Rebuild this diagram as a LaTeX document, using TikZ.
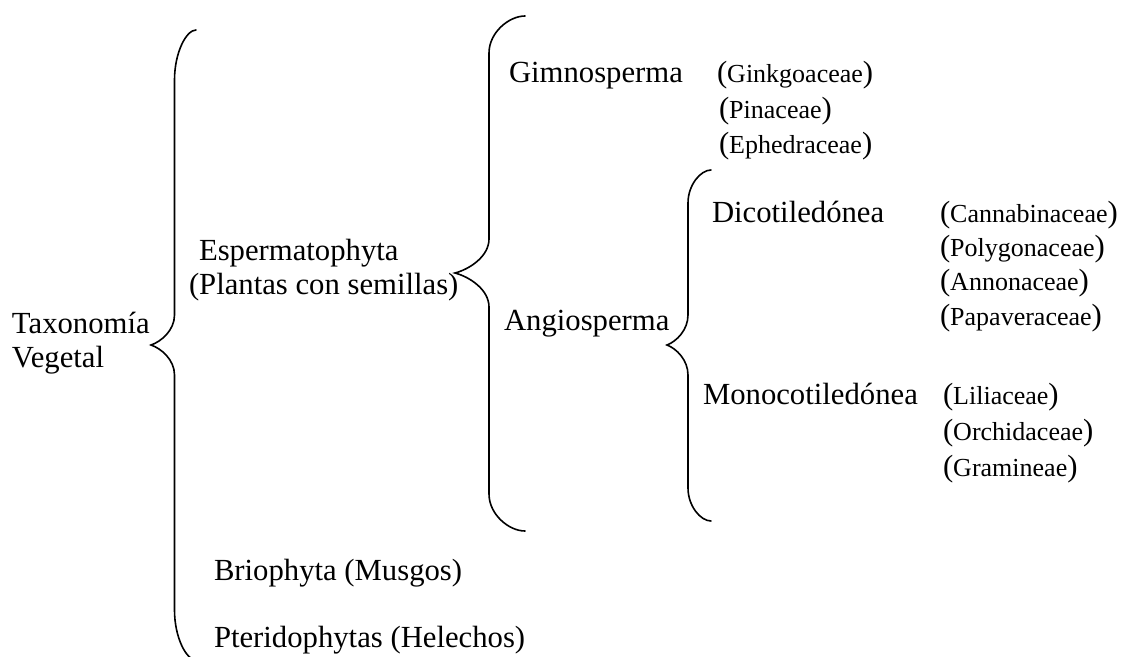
\documentclass[tikz,border=0pt]{standalone}
\usepackage{fontspec}
\setmainfont{Liberation Serif}
\newcommand\mainsize{\fontsize{30.7}{36}\selectfont}
\newcommand\famsize{\fontsize{26}{30}\selectfont}
\newcommand\famname[1]{(\famsize #1\mainsize)}
% #1 end x, #2 vertical x, #3 tip x, #4 top y, #5 tip y, #6 bottom y, #7 hook height, #8 tip height
\newcommand\drawmybrace[8]{%
  \draw[bracestyle] (#1,#4) .. controls ({#2+0.55*(#1-#2)},#4) and (#2,{#4+0.45*#7}) .. (#2,{#4+#7})
    -- (#2,{#5-#8}) .. controls (#2,{#5-0.5*#8}) and ({#3+0.45*(#2-#3)},{#5-0.12*#8}) .. (#3,#5)
    .. controls ({#3+0.45*(#2-#3)},{#5+0.12*#8}) and (#2,{#5+0.5*#8}) .. (#2,{#5+#8})
    -- (#2,{#6-#7}) .. controls (#2,{#6-0.45*#7}) and ({#2+0.55*(#1-#2)},#6) .. (#1,#6);}
\begin{document}
\begin{tikzpicture}[x=1pt,y=-1pt,
  bracestyle/.style={line width=1.6pt, line cap=round},
  lbl/.style={anchor=base west, inner sep=0pt, outer sep=0pt, font=\mainsize}]
\useasboundingbox (0,0) rectangle (1123,656);
% level 0
\node[lbl] (tax1) at (12,333) {Taxonomía};
\node[lbl] (tax2) at (12,367) {Vegetal};
% level 1
\node[lbl] (esp1) at (199,260) {Espermatophyta};
\node[lbl] (esp2) at (189,294) {(Plantas con semillas)};
\node[lbl] (brio) at (214,580) {Briophyta (Musgos)};
\node[lbl] (pter) at (214,647) {Pteridophytas (Helechos)};
% level 2
\node[lbl] (gimn) at (509,82) {Gimnosperma};
\node[lbl] (angi) at (504,330) {Angiosperma};
% gimnosperma families
\node[lbl] (ginkgo) at (717,82) {\famname{Ginkgoaceae}};
\node[lbl] (pina) at (719,118) {\famname{Pinaceae}};
\node[lbl] (ephe) at (719,153) {\famname{Ephedraceae}};
% level 3
\node[lbl] (dico) at (712,222) {Dicotiledónea};
\node[lbl] (mono) at (703,404) {Monocotiledónea};
% dicot families
\node[lbl] (canna) at (940,222) {\famname{Cannabinaceae}};
\node[lbl] (poly) at (940,256) {\famname{Polygonaceae}};
\node[lbl] (anno) at (940,290) {\famname{Annonaceae}};
\node[lbl] (papa) at (940,325) {\famname{Papaveraceae}};
% monocot families
\node[lbl] (lili) at (943,404) {\famname{Liliaceae}};
\node[lbl] (orch) at (943,440) {\famname{Orchidaceae}};
\node[lbl] (gram) at (943,476) {\famname{Gramineae}};
% braces
\drawmybrace{196}{174.5}{151}{30}{345}{660}{50}{30}
\drawmybrace{525}{489}{455}{16}{273}{531}{37}{34}
\drawmybrace{711}{688}{667}{170}{345}{521}{33}{30}
\end{tikzpicture}
\end{document}
